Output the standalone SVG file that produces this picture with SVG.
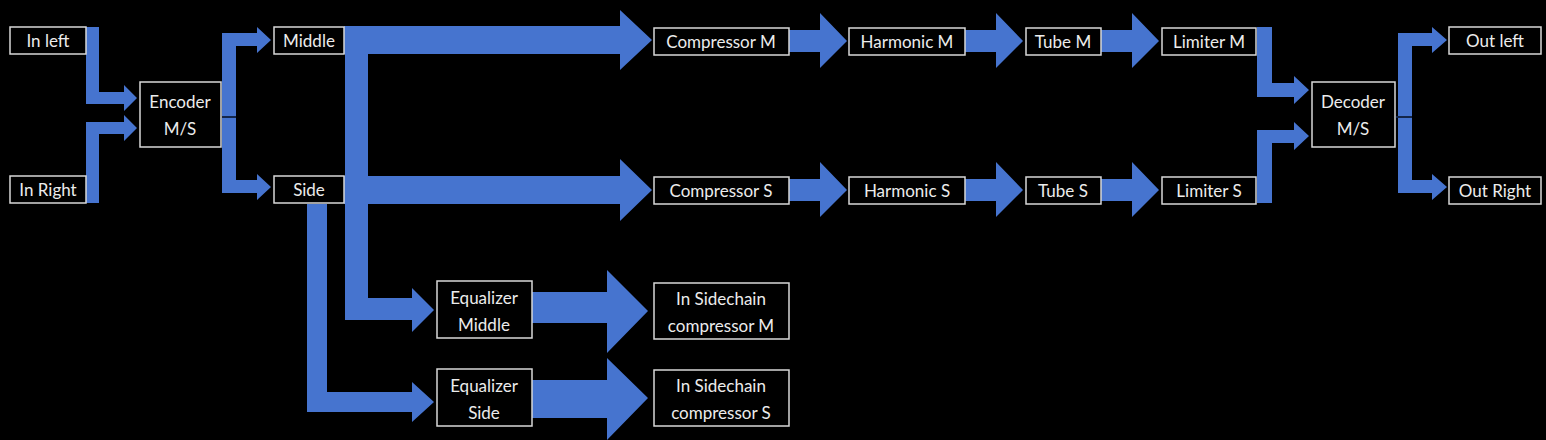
<svg xmlns="http://www.w3.org/2000/svg" width="1546" height="440" viewBox="0 0 1546 440">
<style>
.n rect{fill:#000;stroke:#d8d8d8;stroke-width:1.5}
.n text{fill:#ececec;font-family:Lato,"Open Sans",sans-serif;font-size:17px;text-anchor:middle}
.c polygon{fill:#4674cf}
.c line{stroke:#14264a;stroke-width:2}
</style>
<rect width="1546" height="440" fill="#000"/>
<g class="c">
<polygon points="86,27 99,27 99,92 124,92 124,85 137,98 124,111 124,104 86,104"/>
<polygon points="86,203 99,203 99,134 124,134 124,141 137,128 124,115 124,122 86,122"/>
<polygon points="222,33 257,33 257,27 271,40 257,53 257,46 236,46 236,180 257,180 257,174 271,187 257,200 257,193 222,193"/>
<line x1="222" y1="117" x2="236" y2="117"/>
<polygon points="344,26 620,26 620,10 652,40 620,70 620,54 368,54 368,298 412,298 412,288 434,310 412,332 412,320 345,320 345,54 344,54"/>
<polygon points="344,176 620,176 620,159 652,190 620,221 620,204 344,204"/>
<polygon points="307,204 327,204 327,392 412,392 412,382 434,402 412,422 412,412 307,412"/>
<polygon points="532,292 607,292 607,270 648,311 607,353 607,323 532,323"/>
<polygon points="532,380 607,380 607,358 648,398 607,440 607,418 532,418"/>
<polygon points="789,30 820,30 820,13 847,41 820,68 820,52 789,52"/>
<polygon points="965,30 996,30 996,13 1023,41 996,68 996,52 965,52"/>
<polygon points="1101,30 1132,30 1132,13 1159,41 1132,68 1132,52 1101,52"/>
<polygon points="789,179 820,179 820,162 847,190 820,217 820,201 789,201"/>
<polygon points="965,179 996,179 996,162 1023,190 996,217 996,201 965,201"/>
<polygon points="1101,179 1132,179 1132,162 1159,190 1132,217 1132,201 1101,201"/>
<polygon points="1257,27 1272,27 1272,83 1294,83 1294,76 1309,90 1294,104 1294,97 1257,97"/>
<polygon points="1257,203 1272,203 1272,143 1294,143 1294,150 1309,136 1294,122 1294,130 1257,130"/>
<polygon points="1398,33 1432,33 1432,27 1447,40 1432,53 1432,46 1412,46 1412,180 1432,180 1432,174 1447,187 1432,200 1432,193 1398,193"/>
<line x1="1396" y1="117" x2="1412" y2="117"/>
</g>
<g id="inleft" class="n"><rect x="10" y="27" width="76" height="27"/><text x="48" y="47">In left</text></g>
<g id="inright" class="n"><rect x="10" y="176" width="76" height="27"/><text x="48" y="196">In Right</text></g>
<g id="encoder" class="n"><rect x="140" y="82" width="81" height="65"/><text x="180" y="108">Encoder</text><text x="180" y="135">M/S</text></g>
<g id="middle" class="n"><rect x="274" y="27" width="70" height="27"/><text x="309" y="47">Middle</text></g>
<g id="side" class="n"><rect x="274" y="176" width="70" height="27"/><text x="309" y="196">Side</text></g>
<g id="compm" class="n"><rect x="654" y="28" width="135" height="27"/><text x="721" y="48">Compressor M</text></g>
<g id="harmm" class="n"><rect x="849" y="28" width="116" height="27"/><text x="907" y="48">Harmonic M</text></g>
<g id="tubem" class="n"><rect x="1026" y="28" width="75" height="27"/><text x="1063" y="48">Tube M</text></g>
<g id="limm" class="n"><rect x="1162" y="28" width="94" height="27"/><text x="1209" y="48">Limiter M</text></g>
<g id="comps" class="n"><rect x="654" y="177" width="135" height="27"/><text x="721" y="197">Compressor S</text></g>
<g id="harms" class="n"><rect x="849" y="177" width="116" height="27"/><text x="907" y="197">Harmonic S</text></g>
<g id="tubes" class="n"><rect x="1026" y="177" width="75" height="27"/><text x="1063" y="197">Tube S</text></g>
<g id="lims" class="n"><rect x="1162" y="177" width="94" height="27"/><text x="1209" y="197">Limiter S</text></g>
<g id="decoder" class="n"><rect x="1312" y="82" width="83" height="65"/><text x="1353" y="108">Decoder</text><text x="1353" y="135">M/S</text></g>
<g id="outleft" class="n"><rect x="1449" y="27" width="92" height="27"/><text x="1495" y="47">Out left</text></g>
<g id="outright" class="n"><rect x="1449" y="177" width="92" height="27"/><text x="1495" y="197">Out Right</text></g>
<g id="eqm" class="n"><rect x="437" y="281" width="95" height="57"/><text x="484" y="304">Equalizer</text><text x="484" y="331">Middle</text></g>
<g id="eqs" class="n"><rect x="437" y="369" width="95" height="57"/><text x="484" y="392">Equalizer</text><text x="484" y="419">Side</text></g>
<g id="scm" class="n"><rect x="654" y="283" width="135" height="56"/><text x="721" y="305">In Sidechain</text><text x="721" y="332">compressor M</text></g>
<g id="scs" class="n"><rect x="654" y="370" width="135" height="56"/><text x="721" y="392">In Sidechain</text><text x="721" y="419">compressor S</text></g>
</svg>
